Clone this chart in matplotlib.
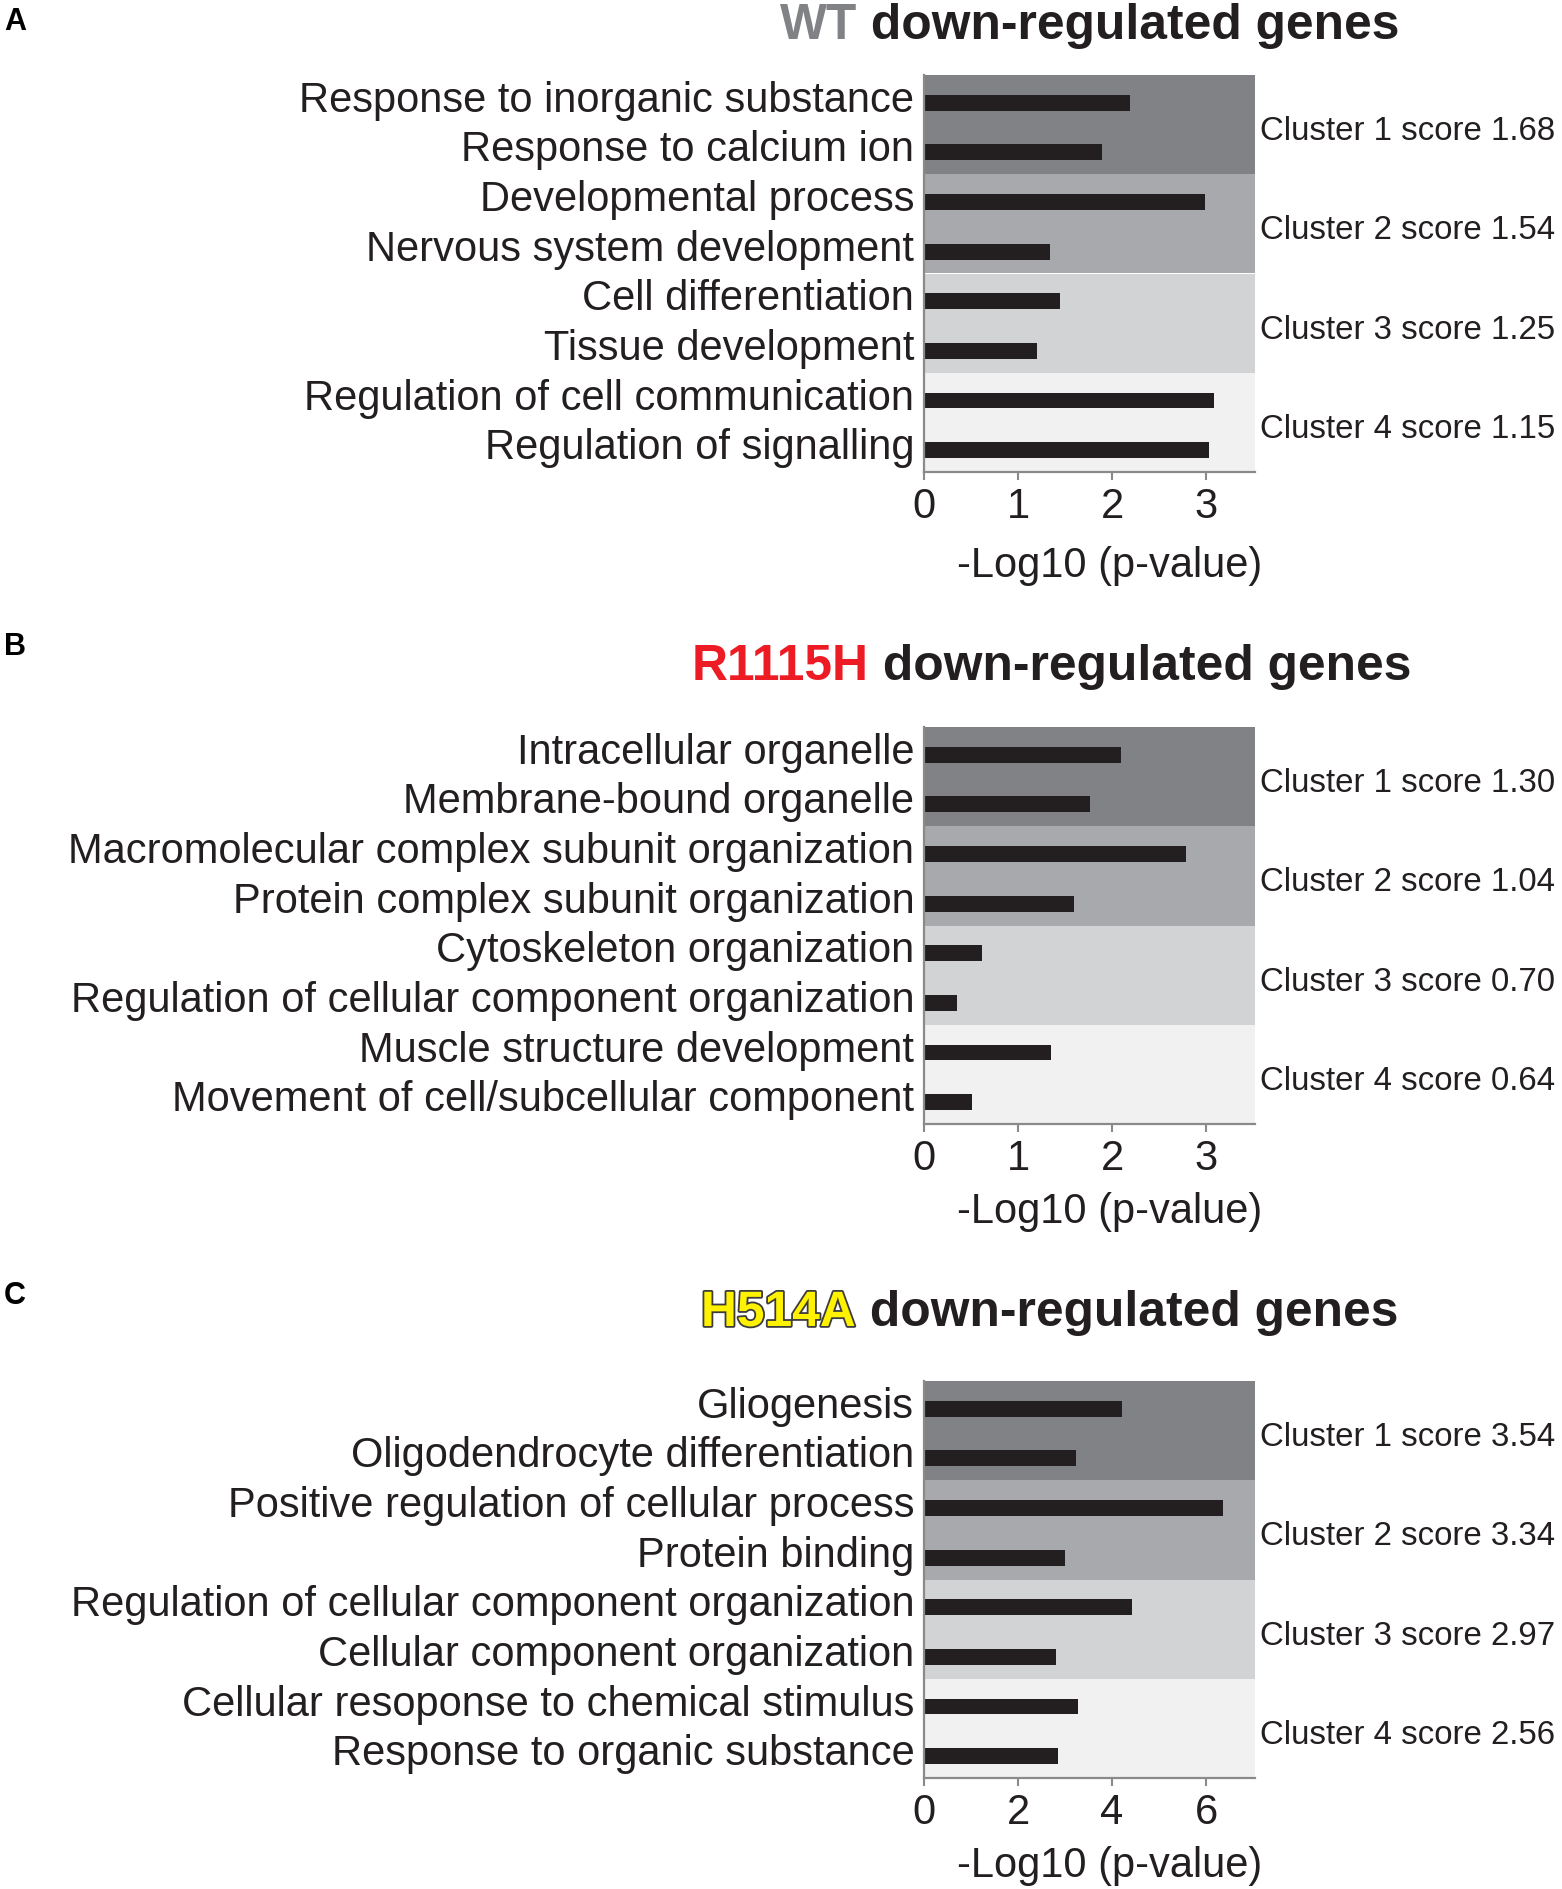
import matplotlib
matplotlib.use('Agg')
import matplotlib.pyplot as plt
import matplotlib.patheffects as pe
from matplotlib.transforms import blended_transform_factory

plt.rcParams['font.family'] = ['Liberation Sans', 'DejaVu Sans']

# terms, top to bottom, for each panel
terms_wt = ['Response to inorganic substance', 'Response to calcium ion',
            'Developmental process', 'Nervous system development',
            'Cell differentiation', 'Tissue development',
            'Regulation of cell communication', 'Regulation of signalling']
terms_r1115h = ['Intracellular organelle', 'Membrane-bound organelle',
                'Macromolecular complex subunit organization',
                'Protein complex subunit organization',
                'Cytoskeleton organization',
                'Regulation of cellular component organization',
                'Muscle structure development',
                'Movement of cell/subcellular component']
terms_h514a = ['Gliogenesis', 'Oligodendrocyte differentiation',
               'Positive regulation of cellular process', 'Protein binding',
               'Regulation of cellular component organization',
               'Cellular component organization',
               'Cellular resoponse to chemical stimulus',
               'Response to organic substance']

# -log10(p-value)
pval_wt = [2.19, 1.89, 2.99, 1.34, 1.45, 1.20, 3.08, 3.03]
pval_r1115h = [2.10, 1.76, 2.79, 1.60, 0.62, 0.35, 1.35, 0.51]
pval_h514a = [4.21, 3.23, 6.36, 3.00, 4.43, 2.80, 3.28, 2.85]

# cluster enrichment scores
scores_wt = ['1.68', '1.54', '1.25', '1.15']
scores_r1115h = ['1.30', '1.04', '0.70', '0.64']
scores_h514a = ['3.54', '3.34', '2.97', '2.56']

xticks_ab = [0, 1, 2, 3]
xticks_c = [0, 2, 4, 6]

cluster_colors = ['#808285', '#a7a9ac', '#d1d3d4', '#f1f1f2']
bar_color = '#231f20'
spine_color = '#8a8a8a'

W, H = 1562, 1889
fig = plt.figure(figsize=(W / 100, H / 100), dpi=100)


def px_axes(top, bottom, left=924, right=1255):
    return fig.add_axes([left / W, (H - bottom) / H, (right - left) / W, (bottom - top) / H])


def draw_panel(ax, terms, vals, scores, xmax, xticks, label_y):
    n = len(terms)
    for k in range(4):
        ax.axhspan(2 * k - 0.5, 2 * k + 1.5, color=cluster_colors[k], lw=0, zorder=0)
    ypos = [i + 0.06 for i in range(n)]
    ax.barh(ypos, vals, height=0.32, color=bar_color, zorder=2)
    ax.set_ylim(n - 0.5, -0.5)
    ax.set_xlim(0, xmax)
    ax.set_yticks([i - 0.07 for i in range(n)])
    ax.set_yticklabels(terms, fontsize=30, color=bar_color)
    ax.tick_params(axis='y', length=0, pad=7)
    ax.set_xticks(xticks)
    ax.set_xticklabels([str(t) for t in xticks], fontsize=30, color=bar_color)
    ax.tick_params(axis='x', length=6, width=1.5, color=spine_color, pad=5)
    for s in ['top', 'right']:
        ax.spines[s].set_visible(False)
    for s in ['left', 'bottom']:
        ax.spines[s].set_color(spine_color)
        ax.spines[s].set_linewidth(1.6)
        ax.spines[s].set_zorder(3)
    ax.set_xlabel('-Log10 (p-value)', fontsize=30, color=bar_color)
    ax.xaxis.set_label_coords(0.56, label_y)
    tr = blended_transform_factory(ax.transAxes, ax.transData)
    for k in range(4):
        ax.text(1.015, 2 * k + 0.64, 'Cluster %d score %s' % (k + 1, scores[k]),
                transform=tr, fontsize=23.8, color=bar_color, ha='left', va='center')


def draw_title(x, y, head, color, effects=None):
    t1 = fig.text(x / W, (H - y) / H, head, fontsize=35.8, fontweight='bold',
                  color=color, ha='left', va='baseline', path_effects=effects)
    plt.annotate(' down-regulated genes', xy=(1, 0), xycoords=t1,
                 fontsize=35.8, fontweight='bold', color=bar_color,
                 ha='left', va='bottom', annotation_clip=False)


axA = px_axes(75, 472)
draw_panel(axA, terms_wt, pval_wt, scores_wt, 3.52, xticks_ab, -0.186)
axB = px_axes(727, 1124)
draw_panel(axB, terms_r1115h, pval_r1115h, scores_r1115h, 3.52, xticks_ab, -0.171)
axC = px_axes(1381, 1778)
draw_panel(axC, terms_h514a, pval_h514a, scores_h514a, 7.04, xticks_c, -0.171)

draw_title(780, 39, 'WT', '#808285')
draw_title(692, 680, 'R1115H', '#ed1c24')
draw_title(701, 1326, 'H514A', '#fff200',
           [pe.withStroke(linewidth=2.6, foreground='#3c3c3c')])

for letter, yb in [('A', 30), ('B', 655), ('C', 1304)]:
    fig.text(4 / W, (H - yb) / H, letter, fontsize=22, fontweight='bold',
             color='black', ha='left', va='baseline')

fig.savefig('out.png', dpi=100)
